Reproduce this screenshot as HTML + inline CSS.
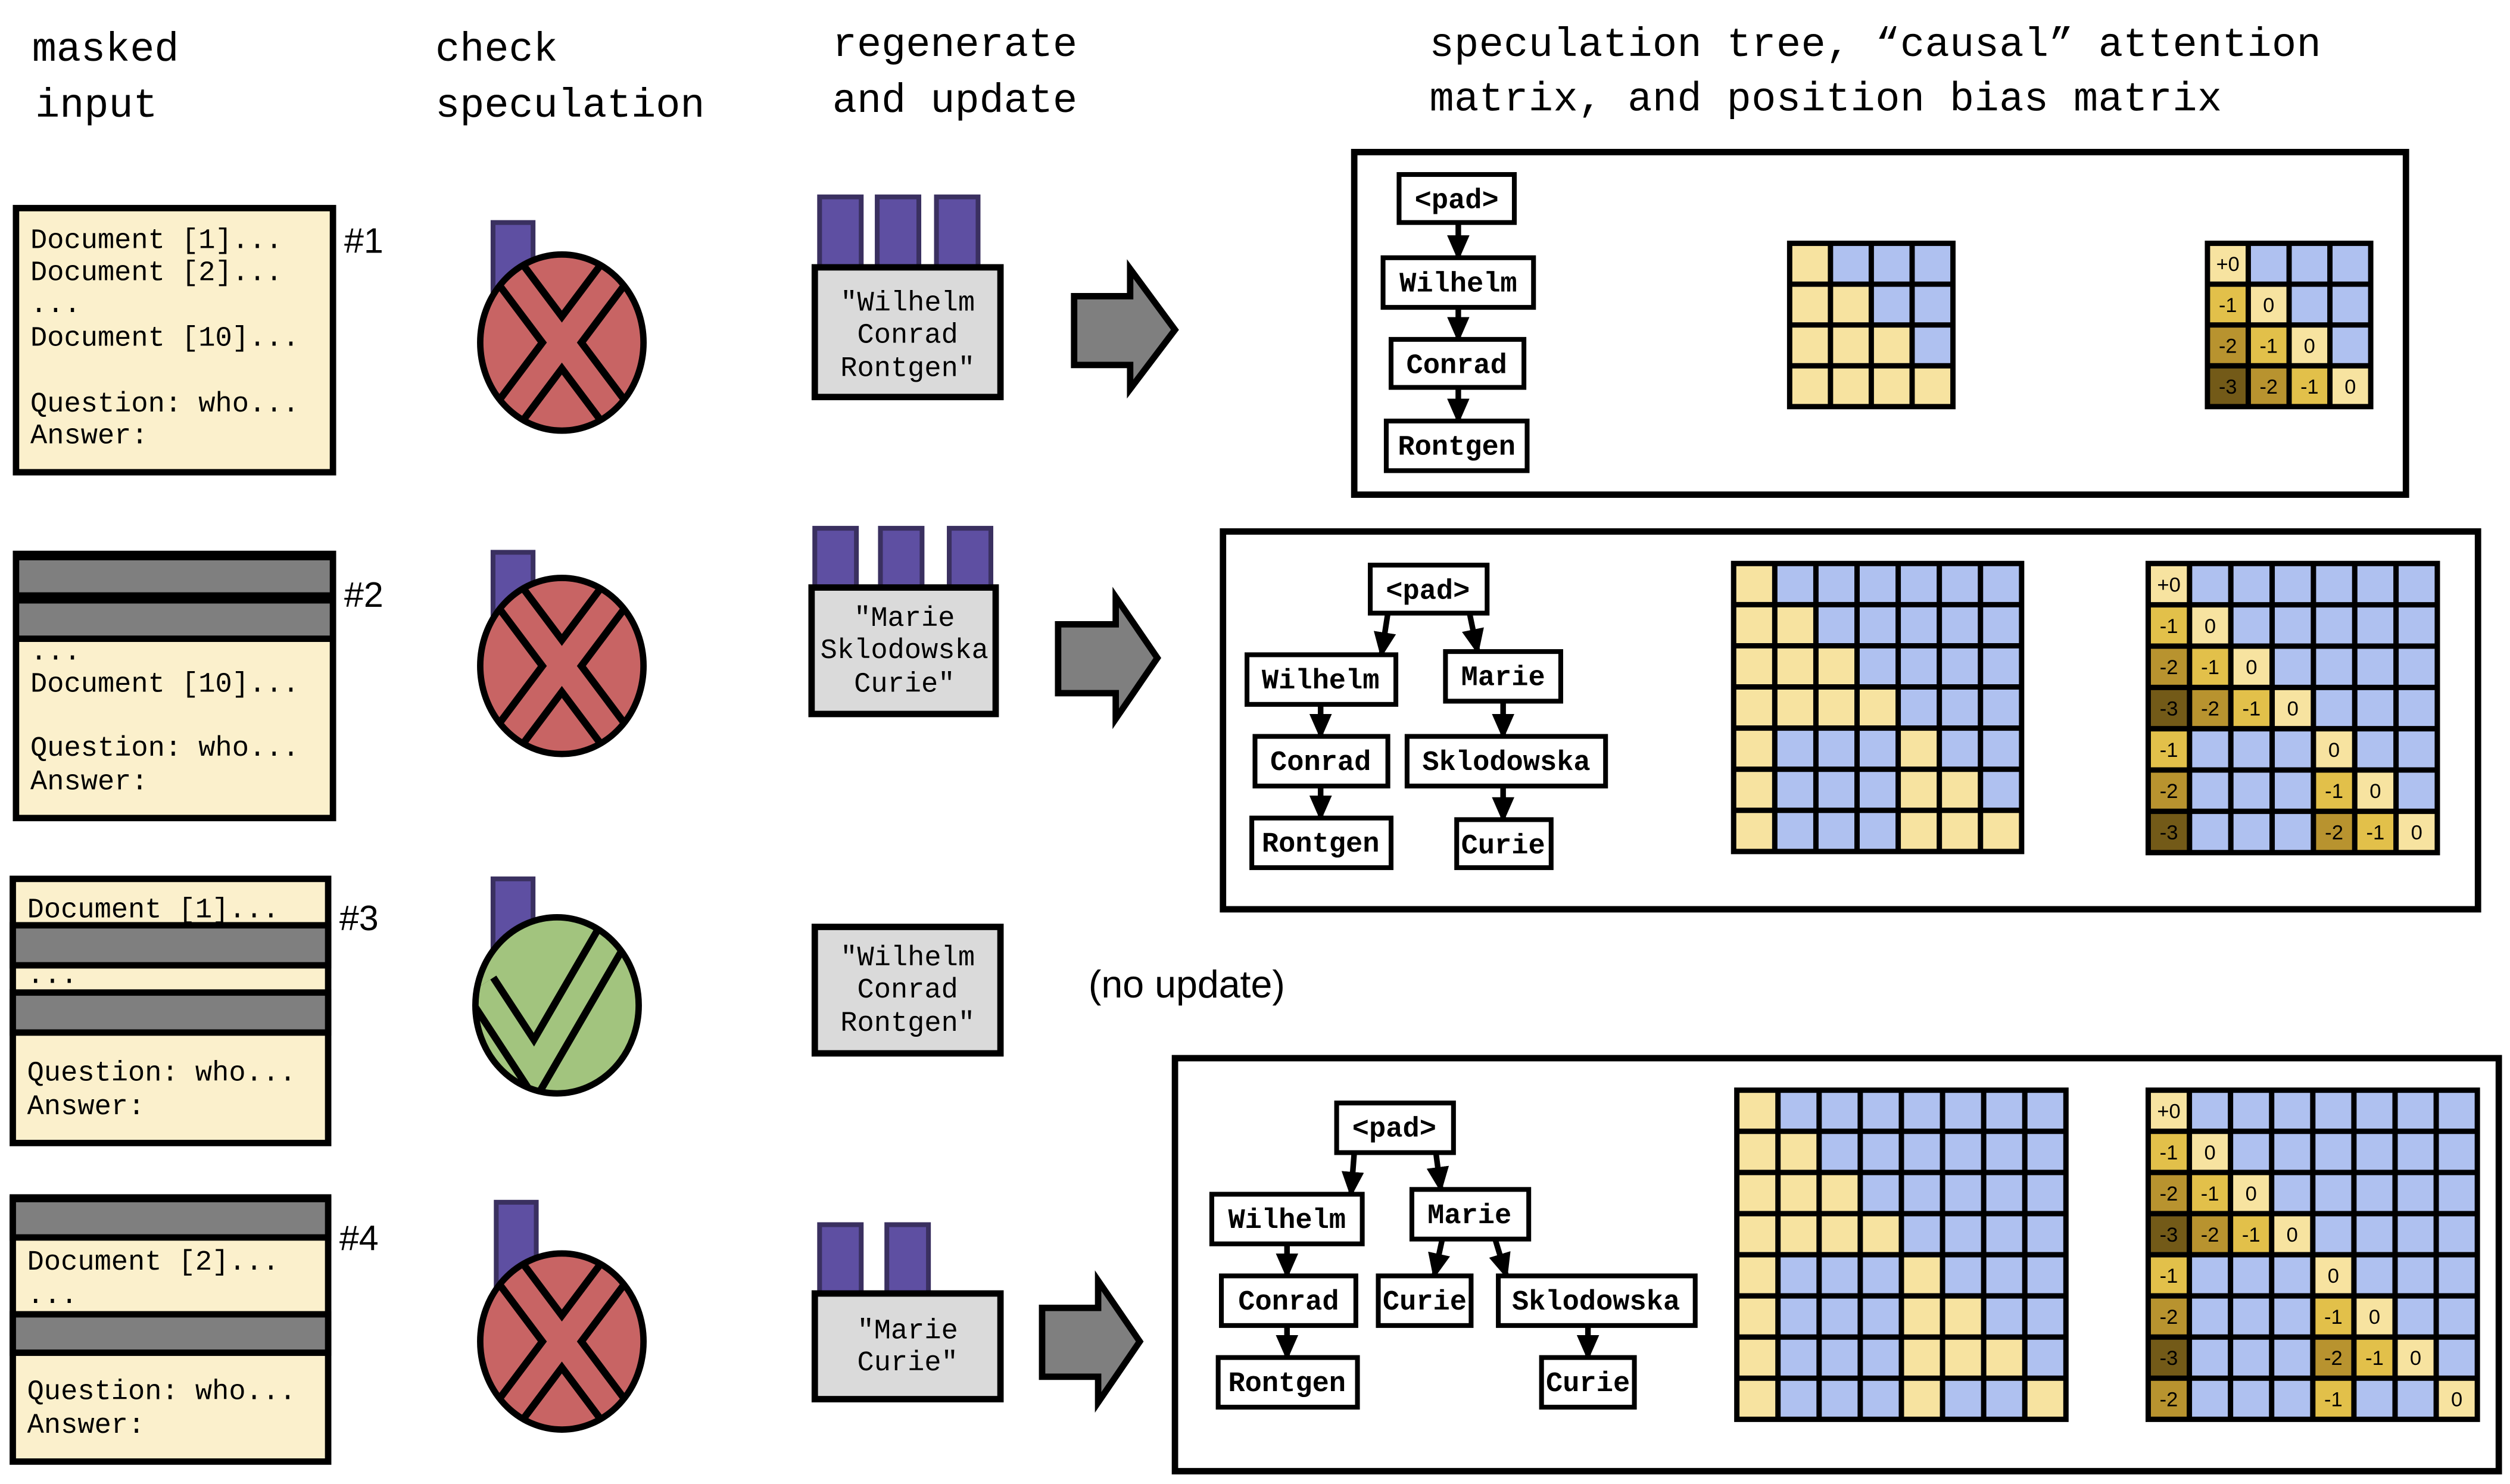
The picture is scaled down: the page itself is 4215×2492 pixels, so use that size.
<!DOCTYPE html>
<html><head><meta charset="utf-8"><style>
html,body{margin:0;padding:0;background:#fff}
svg{display:block}
.m{font-family:"Liberation Mono",monospace}
.s{font-family:"Liberation Sans",sans-serif}
.tb{fill:#fff;stroke:#000;stroke-width:3}
.tt{font-family:"Liberation Mono",monospace;font-weight:bold;font-size:17.5px;text-anchor:middle}
.L{fill:#F7E3A0}.a{fill:#E2C04A}.b{fill:#B8932F}.c{fill:#735A18}.B{fill:#AFC1F0}
.n{font-family:"Liberation Sans",sans-serif;font-size:.5px;text-anchor:middle}
.g{fill:none;stroke:#000;stroke-width:.13}
.pb{fill:#5E4FA2;stroke:#3A3060;stroke-width:3}
.doc{fill:#FBF0CC;stroke:#000;stroke-width:4}
.gr{fill:#7F7F7F;stroke:#000;stroke-width:4}
.dt{font-family:"Liberation Mono",monospace;font-size:17.5px}
.rg{fill:#DADADA;stroke:#000;stroke-width:4}
.rt{font-family:"Liberation Mono",monospace;font-size:17.5px;text-anchor:middle}
.ar{fill:#7F7F7F;stroke:#000;stroke-width:4;stroke-linejoin:miter}
.ln{stroke:#000;stroke-width:3.5;marker-end:url(#h)}
</style></head><body>
<svg width="4215" height="2492" viewBox="0 0 1568 927" preserveAspectRatio="none" xmlns="http://www.w3.org/2000/svg">
<defs>
<marker id="h" markerUnits="userSpaceOnUse" markerWidth="16" markerHeight="14" refX="14" refY="7" orient="auto"><path d="M0,0 L16,7 L0,14 Z" fill="#000"/></marker>
<clipPath id="c1"><ellipse cx="351" cy="214" rx="51" ry="55"/></clipPath>
<clipPath id="c2"><ellipse cx="351" cy="416" rx="51" ry="55"/></clipPath>
<clipPath id="c3"><ellipse cx="348" cy="628" rx="51" ry="55"/></clipPath>
<clipPath id="c4"><ellipse cx="351" cy="838" rx="51" ry="55"/></clipPath>
</defs>

<!-- headers -->
<g class="m" font-size="25.5">
<text x="20" y="38">masked</text><text x="22" y="73">input</text>
<text x="272" y="38">check</text><text x="272" y="73">speculation</text>
<text x="520" y="35">regenerate</text><text x="520" y="70">and update</text>
<text x="893" y="35" textLength="557">speculation tree, “causal” attention</text>
<text x="893" y="69" textLength="495">matrix, and position bias matrix</text>
</g>

<!-- input boxes -->
<rect class="doc" x="10" y="130" width="198" height="165"/>
<g class="dt"><text x="19" y="155">Document [1]...</text><text x="19" y="175">Document [2]...</text><text x="19" y="195">...</text><text x="19" y="216">Document [10]...</text><text x="19" y="257">Question: who...</text><text x="19" y="277">Answer:</text></g>

<rect class="doc" x="10" y="346" width="198" height="165"/>
<rect class="gr" x="10" y="348" width="198" height="24"/><rect class="gr" x="10" y="375" width="198" height="24"/>
<g class="dt"><text x="19" y="412">...</text><text x="19" y="432">Document [10]...</text><text x="19" y="472">Question: who...</text><text x="19" y="493">Answer:</text></g>

<rect class="doc" x="8" y="549" width="197" height="165"/>
<rect class="gr" x="8" y="578" width="197" height="25"/><rect class="gr" x="8" y="620" width="197" height="25"/>
<g class="dt"><text x="17" y="573">Document [1]...</text><text x="17" y="614">...</text><text x="17" y="675">Question: who...</text><text x="17" y="696">Answer:</text></g>

<rect class="doc" x="8" y="748" width="197" height="165"/>
<rect class="gr" x="8" y="749" width="197" height="24"/><rect class="gr" x="8" y="821" width="197" height="24"/>
<g class="dt"><text x="17" y="793">Document [2]...</text><text x="17" y="814">...</text><text x="17" y="874">Question: who...</text><text x="17" y="895">Answer:</text></g>

<g class="s" font-size="22"><text x="215" y="158">#1</text><text x="215" y="379">#2</text><text x="212" y="581">#3</text><text x="212" y="781">#4</text></g>

<!-- check icons -->
<rect class="pb" x="308" y="139" width="25" height="75"/>
<ellipse cx="351" cy="214" rx="51" ry="55" fill="#C86464"/>
<g clip-path="url(#c1)"><path d="M300,146 L402,282 M402,146 L300,282" stroke="#000" stroke-width="24"/><path d="M300,146 L402,282 M402,146 L300,282" stroke="#C86464" stroke-width="15"/></g>
<ellipse cx="351" cy="214" rx="51" ry="55" fill="none" stroke="#000" stroke-width="4"/>

<rect class="pb" x="308" y="345" width="25" height="75"/>
<ellipse cx="351" cy="416" rx="51" ry="55" fill="#C86464"/>
<g clip-path="url(#c2)"><path d="M300,348 L402,484 M402,348 L300,484" stroke="#000" stroke-width="24"/><path d="M300,348 L402,484 M402,348 L300,484" stroke="#C86464" stroke-width="15"/></g>
<ellipse cx="351" cy="416" rx="51" ry="55" fill="none" stroke="#000" stroke-width="4"/>

<rect class="pb" x="308" y="549" width="25" height="75"/>
<ellipse cx="348" cy="628" rx="51" ry="55" fill="#A2C47E"/>
<g clip-path="url(#c3)"><path d="M300,616 L334,668 L384,582" fill="none" stroke="#000" stroke-width="24"/><path d="M300,616 L334,668 L384,582" fill="none" stroke="#A2C47E" stroke-width="15"/></g>
<ellipse cx="348" cy="628" rx="51" ry="55" fill="none" stroke="#000" stroke-width="4"/>

<rect class="pb" x="310" y="751" width="25" height="75"/>
<ellipse cx="351" cy="838" rx="51" ry="55" fill="#C86464"/>
<g clip-path="url(#c4)"><path d="M300,770 L402,906 M402,770 L300,906" stroke="#000" stroke-width="24"/><path d="M300,770 L402,906 M402,770 L300,906" stroke="#C86464" stroke-width="15"/></g>
<ellipse cx="351" cy="838" rx="51" ry="55" fill="none" stroke="#000" stroke-width="4"/>

<!-- regenerate -->
<rect class="pb" x="512" y="123" width="26" height="46"/><rect class="pb" x="548" y="123" width="26" height="46"/><rect class="pb" x="585" y="123" width="26" height="46"/>
<rect class="rg" x="509" y="167" width="116" height="81"/>
<g class="rt"><text x="567" y="194">"Wilhelm</text><text x="567" y="214">Conrad</text><text x="567" y="235">Rontgen"</text></g>

<rect class="pb" x="509" y="330" width="26" height="39"/><rect class="pb" x="550" y="330" width="26" height="39"/><rect class="pb" x="593" y="330" width="26" height="39"/>
<rect class="rg" x="507" y="367" width="115" height="79"/>
<g class="rt"><text x="565" y="391">"Marie</text><text x="565" y="411">Sklodowska</text><text x="565" y="432">Curie"</text></g>

<rect class="rg" x="509" y="579" width="116" height="79"/>
<g class="rt"><text x="567" y="603">"Wilhelm</text><text x="567" y="623">Conrad</text><text x="567" y="644">Rontgen"</text></g>

<rect class="pb" x="512" y="765" width="26" height="45"/><rect class="pb" x="554" y="765" width="26" height="45"/>
<rect class="rg" x="509" y="808" width="116" height="66"/>
<g class="rt"><text x="567" y="836">"Marie</text><text x="567" y="856">Curie"</text></g>

<!-- big arrows -->
<path class="ar" d="M671,185 L706,185 L706,168 L734,206 L706,243 L706,228 L671,228 Z"/>
<path class="ar" d="M661,390 L697,390 L697,373 L723,411 L697,449 L697,433 L661,433 Z"/>
<path class="ar" d="M651,817 L686,817 L686,800 L712,838 L686,876 L686,860 L651,860 Z"/>

<text class="s" x="680" y="623" font-size="24">(no update)</text>

<!-- frames -->
<rect x="846" y="95" width="657" height="214" fill="none" stroke="#000" stroke-width="4"/>
<rect x="764" y="332" width="784" height="236" fill="none" stroke="#000" stroke-width="4"/>
<rect x="734" y="661" width="827" height="258" fill="none" stroke="#000" stroke-width="4"/>

<!-- tree 1 -->
<line class="ln" x1="911" y1="139" x2="911" y2="161"/>
<line class="ln" x1="911" y1="192" x2="911" y2="212"/>
<line class="ln" x1="911" y1="242" x2="911" y2="263"/>
<rect class="tb" x="874" y="109" width="72" height="30"/><text class="tt" x="910" y="130">&lt;pad&gt;</text>
<rect class="tb" x="864" y="161" width="94" height="31"/><text class="tt" x="911" y="182">Wilhelm</text>
<rect class="tb" x="869" y="212" width="83" height="30"/><text class="tt" x="910" y="233">Conrad</text>
<rect class="tb" x="866" y="263" width="88" height="31"/><text class="tt" x="910" y="284">Rontgen</text>

<!-- tree 2 -->
<line class="ln" x1="867" y1="383" x2="863" y2="409"/>
<line class="ln" x1="918" y1="383" x2="923" y2="407"/>
<line class="ln" x1="825" y1="440" x2="825" y2="460"/>
<line class="ln" x1="939" y1="438" x2="939" y2="460"/>
<line class="ln" x1="825" y1="491" x2="825" y2="511"/>
<line class="ln" x1="939" y1="491" x2="939" y2="512"/>
<rect class="tb" x="856" y="353" width="73" height="30"/><text class="tt" x="892" y="374">&lt;pad&gt;</text>
<rect class="tb" x="779" y="409" width="93" height="31"/><text class="tt" x="825" y="430">Wilhelm</text>
<rect class="tb" x="903" y="407" width="72" height="31"/><text class="tt" x="939" y="428">Marie</text>
<rect class="tb" x="784" y="460" width="83" height="31"/><text class="tt" x="825" y="481">Conrad</text>
<rect class="tb" x="879" y="460" width="124" height="31"/><text class="tt" x="941" y="481">Sklodowska</text>
<rect class="tb" x="782" y="511" width="87" height="31"/><text class="tt" x="825" y="532">Rontgen</text>
<rect class="tb" x="910" y="512" width="59" height="30"/><text class="tt" x="939" y="533">Curie</text>

<!-- tree 3 -->
<line class="ln" x1="846" y1="720" x2="844" y2="746"/>
<line class="ln" x1="897" y1="720" x2="900" y2="743"/>
<line class="ln" x1="804" y1="777" x2="804" y2="797"/>
<line class="ln" x1="901" y1="774" x2="896" y2="797"/>
<line class="ln" x1="934" y1="774" x2="941" y2="797"/>
<line class="ln" x1="804" y1="828" x2="804" y2="848"/>
<line class="ln" x1="992" y1="828" x2="992" y2="848"/>
<rect class="tb" x="835" y="689" width="73" height="31"/><text class="tt" x="871" y="710">&lt;pad&gt;</text>
<rect class="tb" x="757" y="746" width="94" height="31"/><text class="tt" x="804" y="767">Wilhelm</text>
<rect class="tb" x="882" y="743" width="73" height="31"/><text class="tt" x="918" y="764">Marie</text>
<rect class="tb" x="763" y="797" width="84" height="31"/><text class="tt" x="805" y="818">Conrad</text>
<rect class="tb" x="861" y="797" width="58" height="31"/><text class="tt" x="890" y="818">Curie</text>
<rect class="tb" x="936" y="797" width="123" height="31"/><text class="tt" x="997" y="818">Sklodowska</text>
<rect class="tb" x="761" y="848" width="87" height="31"/><text class="tt" x="804" y="869">Rontgen</text>
<rect class="tb" x="963" y="848" width="58" height="31"/><text class="tt" x="992" y="869">Curie</text>

<!-- matrix 1 attention -->
<g transform="translate(1118,152) scale(25.5)">
<rect class="B" x="0" y="0" width="4" height="4"/>
<rect class="L" x="0" y="0" width="1" height="1"/><rect class="L" x="0" y="1" width="2" height="1"/><rect class="L" x="0" y="2" width="3" height="1"/><rect class="L" x="0" y="3" width="4" height="1"/>
<path class="g" d="M1,0V4M2,0V4M3,0V4M0,1H4M0,2H4M0,3H4"/><rect class="g" x="0" y="0" width="4" height="4"/>
</g>
<!-- matrix 1 bias -->
<g transform="translate(1379,152) scale(25.5)">
<rect class="B" x="0" y="0" width="4" height="4"/>
<rect class="L" x="0" y="0" width="1" height="1"/>
<rect class="a" x="0" y="1" width="1" height="1"/><rect class="L" x="1" y="1" width="1" height="1"/>
<rect class="b" x="0" y="2" width="1" height="1"/><rect class="a" x="1" y="2" width="1" height="1"/><rect class="L" x="2" y="2" width="1" height="1"/>
<rect class="c" x="0" y="3" width="1" height="1"/><rect class="b" x="1" y="3" width="1" height="1"/><rect class="a" x="2" y="3" width="1" height="1"/><rect class="L" x="3" y="3" width="1" height="1"/>
<path class="g" d="M1,0V4M2,0V4M3,0V4M0,1H4M0,2H4M0,3H4"/><rect class="g" x="0" y="0" width="4" height="4"/>
<g class="n"><text x=".5" y=".68">+0</text><text x=".5" y="1.68">-1</text><text x="1.5" y="1.68">0</text><text x=".5" y="2.68">-2</text><text x="1.5" y="2.68">-1</text><text x="2.5" y="2.68">0</text><text x=".5" y="3.68">-3</text><text x="1.5" y="3.68">-2</text><text x="2.5" y="3.68">-1</text><text x="3.5" y="3.68">0</text></g>
</g>

<!-- matrix 2 attention -->
<g transform="translate(1083,352) scale(25.7)">
<rect class="B" x="0" y="0" width="7" height="7"/>
<rect class="L" x="0" y="0" width="1" height="1"/><rect class="L" x="0" y="1" width="2" height="1"/><rect class="L" x="0" y="2" width="3" height="1"/><rect class="L" x="0" y="3" width="4" height="1"/>
<rect class="L" x="0" y="4" width="1" height="3"/><rect class="L" x="4" y="4" width="1" height="1"/><rect class="L" x="4" y="5" width="2" height="1"/><rect class="L" x="4" y="6" width="3" height="1"/>
<path class="g" d="M1,0V7M2,0V7M3,0V7M4,0V7M5,0V7M6,0V7M0,1H7M0,2H7M0,3H7M0,4H7M0,5H7M0,6H7"/><rect class="g" x="0" y="0" width="7" height="7"/>
</g>
<!-- matrix 2 bias -->
<g transform="translate(1342,352) scale(25.8)">
<rect class="B" x="0" y="0" width="7" height="7"/>
<rect class="L" x="0" y="0" width="1" height="1"/>
<rect class="a" x="0" y="1" width="1" height="1"/><rect class="L" x="1" y="1" width="1" height="1"/>
<rect class="b" x="0" y="2" width="1" height="1"/><rect class="a" x="1" y="2" width="1" height="1"/><rect class="L" x="2" y="2" width="1" height="1"/>
<rect class="c" x="0" y="3" width="1" height="1"/><rect class="b" x="1" y="3" width="1" height="1"/><rect class="a" x="2" y="3" width="1" height="1"/><rect class="L" x="3" y="3" width="1" height="1"/>
<rect class="a" x="0" y="4" width="1" height="1"/><rect class="L" x="4" y="4" width="1" height="1"/>
<rect class="b" x="0" y="5" width="1" height="1"/><rect class="a" x="4" y="5" width="1" height="1"/><rect class="L" x="5" y="5" width="1" height="1"/>
<rect class="c" x="0" y="6" width="1" height="1"/><rect class="b" x="4" y="6" width="1" height="1"/><rect class="a" x="5" y="6" width="1" height="1"/><rect class="L" x="6" y="6" width="1" height="1"/>
<path class="g" d="M1,0V7M2,0V7M3,0V7M4,0V7M5,0V7M6,0V7M0,1H7M0,2H7M0,3H7M0,4H7M0,5H7M0,6H7"/><rect class="g" x="0" y="0" width="7" height="7"/>
<g class="n"><text x=".5" y=".68">+0</text><text x=".5" y="1.68">-1</text><text x="1.5" y="1.68">0</text><text x=".5" y="2.68">-2</text><text x="1.5" y="2.68">-1</text><text x="2.5" y="2.68">0</text><text x=".5" y="3.68">-3</text><text x="1.5" y="3.68">-2</text><text x="2.5" y="3.68">-1</text><text x="3.5" y="3.68">0</text>
<text x=".5" y="4.68">-1</text><text x="4.5" y="4.68">0</text><text x=".5" y="5.68">-2</text><text x="4.5" y="5.68">-1</text><text x="5.5" y="5.68">0</text><text x=".5" y="6.68">-3</text><text x="4.5" y="6.68">-2</text><text x="5.5" y="6.68">-1</text><text x="6.5" y="6.68">0</text></g>
</g>

<!-- matrix 3 attention -->
<g transform="translate(1085,681) scale(25.7)">
<rect class="B" x="0" y="0" width="8" height="8"/>
<rect class="L" x="0" y="0" width="1" height="1"/><rect class="L" x="0" y="1" width="2" height="1"/><rect class="L" x="0" y="2" width="3" height="1"/><rect class="L" x="0" y="3" width="4" height="1"/>
<rect class="L" x="0" y="4" width="1" height="4"/><rect class="L" x="4" y="4" width="1" height="4"/><rect class="L" x="5" y="5" width="1" height="2"/><rect class="L" x="6" y="6" width="1" height="1"/><rect class="L" x="7" y="7" width="1" height="1"/>
<path class="g" d="M1,0V8M2,0V8M3,0V8M4,0V8M5,0V8M6,0V8M7,0V8M0,1H8M0,2H8M0,3H8M0,4H8M0,5H8M0,6H8M0,7H8"/><rect class="g" x="0" y="0" width="8" height="8"/>
</g>
<!-- matrix 3 bias -->
<g transform="translate(1342,681) scale(25.7)">
<rect class="B" x="0" y="0" width="8" height="8"/>
<rect class="L" x="0" y="0" width="1" height="1"/>
<rect class="a" x="0" y="1" width="1" height="1"/><rect class="L" x="1" y="1" width="1" height="1"/>
<rect class="b" x="0" y="2" width="1" height="1"/><rect class="a" x="1" y="2" width="1" height="1"/><rect class="L" x="2" y="2" width="1" height="1"/>
<rect class="c" x="0" y="3" width="1" height="1"/><rect class="b" x="1" y="3" width="1" height="1"/><rect class="a" x="2" y="3" width="1" height="1"/><rect class="L" x="3" y="3" width="1" height="1"/>
<rect class="a" x="0" y="4" width="1" height="1"/><rect class="L" x="4" y="4" width="1" height="1"/>
<rect class="b" x="0" y="5" width="1" height="1"/><rect class="a" x="4" y="5" width="1" height="1"/><rect class="L" x="5" y="5" width="1" height="1"/>
<rect class="c" x="0" y="6" width="1" height="1"/><rect class="b" x="4" y="6" width="1" height="1"/><rect class="a" x="5" y="6" width="1" height="1"/><rect class="L" x="6" y="6" width="1" height="1"/>
<rect class="b" x="0" y="7" width="1" height="1"/><rect class="a" x="4" y="7" width="1" height="1"/><rect class="L" x="7" y="7" width="1" height="1"/>
<path class="g" d="M1,0V8M2,0V8M3,0V8M4,0V8M5,0V8M6,0V8M7,0V8M0,1H8M0,2H8M0,3H8M0,4H8M0,5H8M0,6H8M0,7H8"/><rect class="g" x="0" y="0" width="8" height="8"/>
<g class="n"><text x=".5" y=".68">+0</text><text x=".5" y="1.68">-1</text><text x="1.5" y="1.68">0</text><text x=".5" y="2.68">-2</text><text x="1.5" y="2.68">-1</text><text x="2.5" y="2.68">0</text><text x=".5" y="3.68">-3</text><text x="1.5" y="3.68">-2</text><text x="2.5" y="3.68">-1</text><text x="3.5" y="3.68">0</text>
<text x=".5" y="4.68">-1</text><text x="4.5" y="4.68">0</text><text x=".5" y="5.68">-2</text><text x="4.5" y="5.68">-1</text><text x="5.5" y="5.68">0</text><text x=".5" y="6.68">-3</text><text x="4.5" y="6.68">-2</text><text x="5.5" y="6.68">-1</text><text x="6.5" y="6.68">0</text>
<text x=".5" y="7.68">-2</text><text x="4.5" y="7.68">-1</text><text x="7.5" y="7.68">0</text></g>
</g>
</svg>
</body></html>
